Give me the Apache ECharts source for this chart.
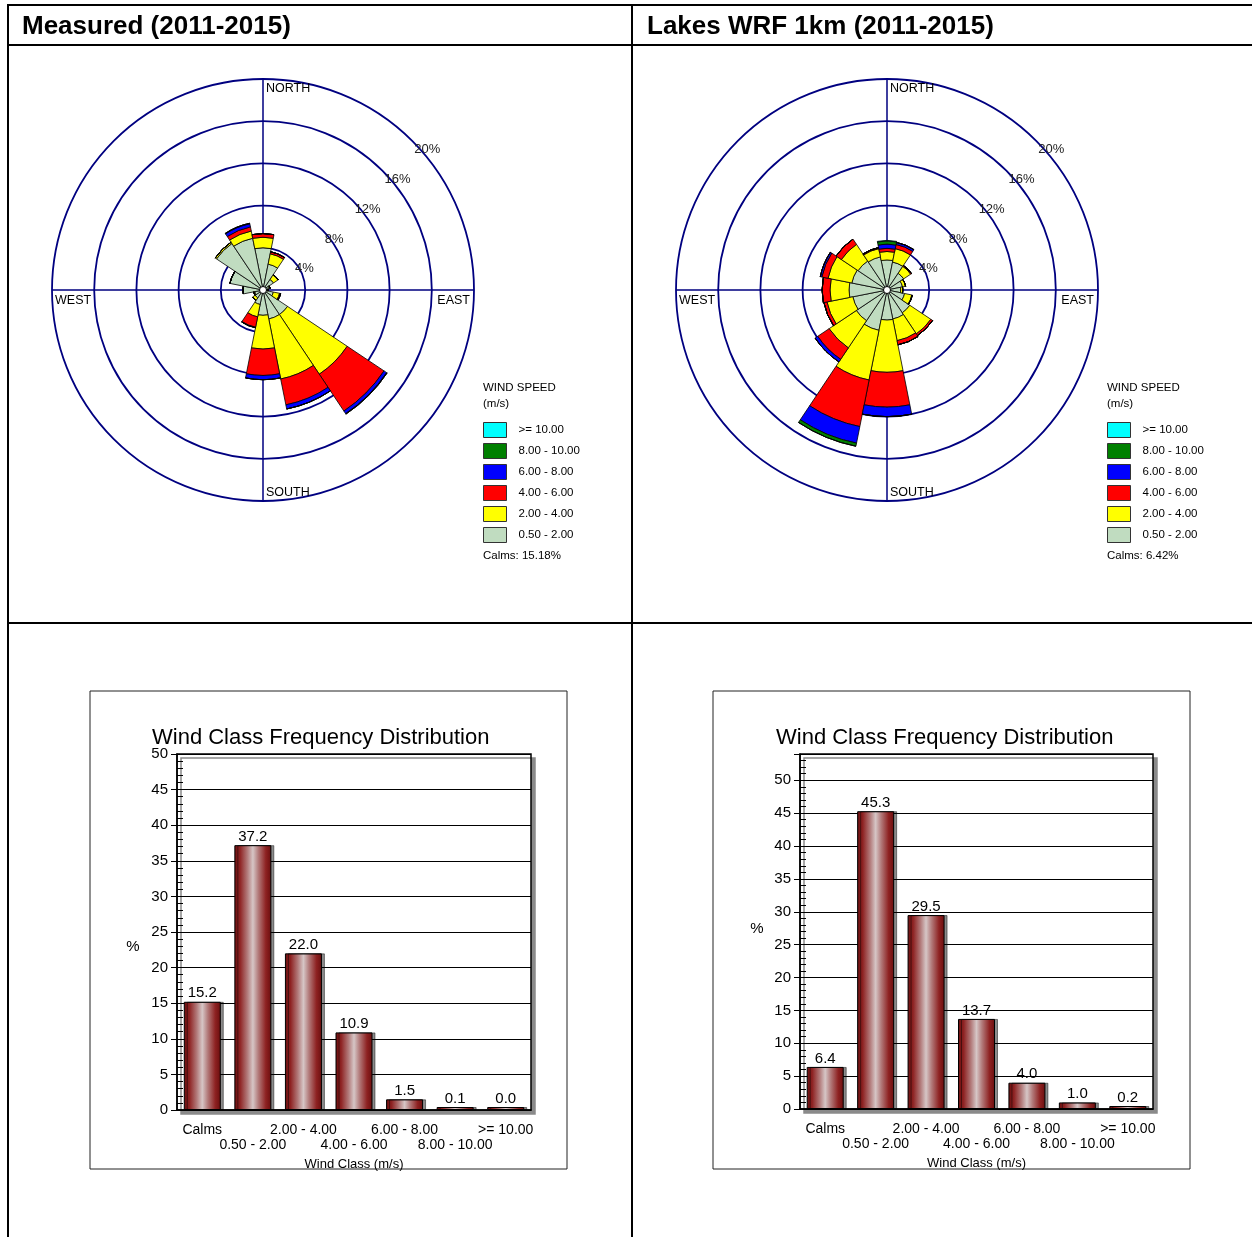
<!DOCTYPE html>
<html>
<head>
<meta charset="utf-8">
<title>Wind roses</title>
<script src="https://cdn.jsdelivr.net/npm/echarts@6/dist/echarts.min.js"></script>
<style>
  html, body { margin: 0; padding: 0; background: #fff; }
  #main { width: 1252px; height: 1237px; }
</style>
</head>
<body>
<div id="main"></div>
<script>
// 16 compass sectors, clockwise from north
var directions = ['N', 'NNE', 'NE', 'ENE', 'E', 'ESE', 'SE', 'SSE', 'S', 'SSW', 'SW', 'WSW', 'W', 'WNW', 'NW', 'NNW'];
var speedClasses = ['0.50 - 2.00', '2.00 - 4.00', '4.00 - 6.00', '6.00 - 8.00', '8.00 - 10.00', '>= 10.00'];
var speedColors = ['#c0dcc0', '#ffff00', '#ff0000', '#0000ff', '#008000', '#00ffff'];

// measured rose, % per sector for each speed class
var measured05to2 = [4.0, 2.5, 1.2, 0.6, 0.4, 1.0, 2.8, 2.8, 2.4, 1.4, 0.9, 0.8, 1.9, 3.2, 5.3, 5.0];
var measured2to4  = [1.0, 1.0, 0.5, 0.1, 0.1, 0.6, 6.8, 5.8, 3.2, 1.2, 0.3, 0.1, 0.0, 0.0, 0.15, 0.7];
var measured4to6  = [0.35, 0.2, 0.05, 0, 0, 0.1, 4.2, 2.5, 2.5, 1.0, 0, 0, 0, 0, 0, 0.4];
var measured6to8  = [0, 0, 0, 0, 0, 0, 0.3, 0.4, 0.4, 0.05, 0, 0, 0, 0, 0, 0.3];
var measured8to10 = [0, 0, 0, 0, 0, 0, 0.05, 0, 0, 0, 0, 0, 0, 0, 0, 0.05];
var measured10up  = [0, 0, 0, 0, 0, 0, 0, 0, 0, 0, 0, 0, 0, 0, 0, 0];

// Lakes WRF 1km rose
var lakes05to2 = [2.85, 2.7, 1.9, 1.5, 1.3, 1.7, 2.6, 2.8, 2.85, 3.9, 3.5, 3.3, 3.6, 3.4, 3.3, 3.2];
var lakes2to4  = [0.8, 1.3, 0.8, 0.3, 0.2, 0.7, 2.4, 2.1, 4.95, 4.8, 3.1, 2.5, 1.8, 2.3, 1.9, 0.8];
var lakes4to6  = [0.3, 0.4, 0.1, 0, 0, 0.05, 0.2, 0.4, 3.3, 4.5, 1.3, 0.3, 0.75, 0.6, 0.6, 0.1];
var lakes6to8  = [0.4, 0.2, 0, 0, 0, 0, 0, 0, 0.9, 1.6, 0.3, 0, 0, 0.15, 0, 0];
var lakes8to10 = [0.3, 0, 0, 0, 0, 0, 0, 0, 0, 0.3, 0, 0, 0, 0, 0, 0];
var lakes10up  = [0.05, 0, 0, 0, 0, 0, 0, 0, 0, 0, 0, 0, 0, 0, 0, 0];

// wind class frequency distribution (%)
var classLabels = ['Calms', '0.50 - 2.00', '2.00 - 4.00', '4.00 - 6.00', '6.00 - 8.00', '8.00 - 10.00', '>= 10.00'];
var measuredClassPct = [15.2, 37.2, 22.0, 10.9, 1.5, 0.1, 0.0];
var lakesClassPct = [6.4, 45.3, 29.5, 13.7, 4.0, 1.0, 0.2];

var FONT = '"Liberation Sans", Arial, sans-serif';
var myChart = echarts.init(document.getElementById('main'));

var roses = [
    {title: 'Measured (2011-2015)', calms: 'Calms: 15.18%', cx: 263, cy: 290, legendX: 483,
        data: [measured05to2, measured2to4, measured4to6, measured6to8, measured8to10, measured10up]},
    {title: 'Lakes WRF 1km (2011-2015)', calms: 'Calms: 6.42%', cx: 887, cy: 290, legendX: 1107,
        data: [lakes05to2, lakes2to4, lakes4to6, lakes6to8, lakes8to10, lakes10up]}
];
var R = 211;

var bars = [
    {data: measuredClassPct, left: 177, width: 354, height: 356, max: 50, titleX: 152, frameX: 90, pctX: 133, pctY: 947},
    {data: lakesClassPct, left: 800, width: 353, height: 355, max: 54, titleX: 776, frameX: 713, pctX: 757, pctY: 929}
];

var polar = [], angleAxis = [], radiusAxis = [], legend = [], series = [], graphic = [];
var grid = [], xAxis = [], yAxis = [], title = [];

var txt = function (s, x, y, size, align, weight) {
    graphic.push({type: 'text', x: x, y: y, z: 50, style: {
        text: s, fill: '#000', align: align || 'left', verticalAlign: 'middle',
        font: (weight || 'normal') + ' ' + size + 'px ' + FONT}});
};

// table lines
[[7, 5, 1252, 5], [7, 45, 1252, 45], [7, 623, 1252, 623], [8, 4, 8, 1237], [632, 4, 632, 1237]].forEach(function (l) {
    graphic.push({type: 'line', shape: {x1: l[0], y1: l[1], x2: l[2], y2: l[3]}, style: {stroke: '#000', lineWidth: 2}});
});

roses.forEach(function (rose, i) {
    var cx = rose.cx, cy = rose.cy;
    polar.push({center: [cx, cy], radius: R});   // sectors + N/E/S/W cross
    polar.push({center: [cx, cy], radius: R});   // rings + % labels on the NE diagonal

    angleAxis.push({
        polarIndex: 2 * i, type: 'category', data: directions, boundaryGap: false,
        startAngle: 90, clockwise: true,
        axisLine: {show: false}, axisLabel: {show: false},
        axisTick: {show: false, interval: 3},
        splitLine: {show: true, interval: 3, lineStyle: {color: '#000080', width: 1.5}}
    });
    angleAxis.push({polarIndex: 2 * i + 1, type: 'value', min: 0, max: 360, startAngle: 45,
        axisLine: {show: false}, axisTick: {show: false}, axisLabel: {show: false}, splitLine: {show: false}});

    radiusAxis.push({
        polarIndex: 2 * i, type: 'value', min: 0, max: 20, interval: 4,
        axisLine: {show: false}, axisTick: {show: false}, axisLabel: {show: false}, splitLine: {show: false}
    });
    radiusAxis.push({
        polarIndex: 2 * i + 1, type: 'value', min: 0, max: 20, interval: 4,
        axisLine: {show: false}, axisTick: {show: false},
        splitLine: {show: true, lineStyle: {color: '#000080', width: 1.8}},
        axisLabel: {
            margin: -3, align: 'left', verticalAlign: 'top', rotate: 0,
            fontSize: 13, color: '#222', fontFamily: FONT,
            formatter: function (v) { return v ? v + '%' : ''; }
        }
    });

    rose.data.forEach(function (vals, k) {
        series.push({
            type: 'bar', name: speedClasses[k], coordinateSystem: 'polar', polarIndex: 2 * i,
            stack: 'rose' + i, data: vals, barCategoryGap: '0%', silent: true,
            itemStyle: {color: speedColors[k], borderColor: '#000', borderWidth: 0.8}
        });
    });

    legend.push({
        orient: 'vertical', left: rose.legendX, top: 422, padding: 0,
        itemWidth: 23, itemHeight: 15, itemGap: 5, icon: 'rect', selectedMode: false,
        data: speedClasses.slice().reverse(),
        itemStyle: {borderColor: '#333', borderWidth: 1},
        textStyle: {fontSize: 11.5, color: '#000', fontFamily: FONT, padding: [0, 0, 0, 7]}
    });

    txt(rose.title, (i ? 647 : 22), 27, 26, 'left', 'bold');
    txt('NORTH', cx + 3, cy - R + 10, 12.5);
    txt('SOUTH', cx + 3, cy + R - 8, 12.5);
    txt('WEST', cx - R + 3, cy + 11, 12.5);
    txt('EAST', cx + R - 4, cy + 11, 12.5, 'right');
    txt('WIND SPEED', rose.legendX, 388, 11.5);
    txt('(m/s)', rose.legendX, 404, 11.5);
    txt(rose.calms, rose.legendX, 556, 11.5);
    graphic.push({type: 'circle', z: 100, shape: {cx: cx, cy: cy, r: 3.5},
        style: {fill: '#fff', stroke: '#000', lineWidth: 1}});
});

var barFill = new echarts.graphic.LinearGradient(0, 0, 1, 0, [
    {offset: 0, color: '#6a0e0e'}, {offset: 0.15, color: '#8e2222'},
    {offset: 0.35, color: '#b27a7a'}, {offset: 0.5, color: '#d6c6c6'},
    {offset: 0.65, color: '#b27a7a'}, {offset: 0.85, color: '#8e2222'},
    {offset: 1, color: '#6a0e0e'}
]);

bars.forEach(function (b, j) {
    grid.push({
        left: b.left, top: 754, width: b.width, height: b.height, show: true,
        outerBoundsMode: 'none',
        backgroundColor: '#fff', borderColor: '#000', borderWidth: 1.5,
        shadowColor: '#8a8a8a', shadowOffsetX: 4, shadowOffsetY: 4, shadowBlur: 0
    });
    xAxis.push({
        gridIndex: j, type: 'category', data: classLabels,
        axisLine: {lineStyle: {color: '#000', width: 1.5}},
        axisTick: {alignWithLabel: true, length: 8, lineStyle: {color: '#000'}},
        axisLabel: {
            interval: 0, fontSize: 14, color: '#000', margin: 13, lineHeight: 15, fontFamily: FONT,
            formatter: function (v, idx) { return idx % 2 ? '\n' + v : v; }
        },
        name: 'Wind Class (m/s)', nameLocation: 'middle', nameGap: 48,
        nameTextStyle: {fontSize: 13, color: '#000', fontFamily: FONT}
    });
    xAxis.push({
        gridIndex: j, type: 'category', data: classLabels, position: 'bottom', z: 5,
        axisLine: {show: false}, axisLabel: {show: false},
        axisTick: {inside: true, alignWithLabel: true, length: 8, lineStyle: {color: '#000'}}
    });
    yAxis.push({
        gridIndex: j, type: 'value', min: 0, max: b.max, interval: 5,
        axisLine: {show: true, lineStyle: {color: '#000', width: 1.5}},
        axisTick: {show: true, length: 6, lineStyle: {color: '#000'}},
        splitLine: {lineStyle: {color: '#000', width: 1}},
        axisLabel: {fontSize: 15, color: '#000', margin: 9, fontFamily: FONT,
            formatter: function (v) { return v % 5 === 0 ? v : ''; }}
    });
    yAxis.push({
        gridIndex: j, type: 'value', min: 0, max: b.max, interval: 1, position: 'left',
        axisLine: {show: false}, axisLabel: {show: false}, splitLine: {show: false},
        axisTick: {show: true, inside: true, length: 6, lineStyle: {color: '#000'}}
    });
    series.push({
        type: 'bar', xAxisIndex: 2 * j, yAxisIndex: 2 * j, data: b.data,
        barWidth: 37, barMinHeight: 3, silent: true,
        itemStyle: {color: barFill, borderColor: '#000', borderWidth: 1,
            shadowColor: 'rgba(0,0,0,0.45)', shadowOffsetX: 3},
        label: {show: true, position: 'top', distance: 1, fontSize: 15, color: '#000', fontFamily: FONT,
            formatter: function (p) { return p.value.toFixed(1); }}
    });
    title.push({
        text: 'Wind Class Frequency Distribution', left: b.titleX, top: 727, padding: 0,
        textStyle: {fontSize: 22, fontWeight: 'normal', color: '#000', fontFamily: FONT}
    });
    txt('%', b.pctX, b.pctY, 15, 'center');
    graphic.push({type: 'rect', shape: {x: b.frameX, y: 691, width: 477, height: 478},
        style: {fill: 'none', stroke: '#222', lineWidth: 1}});
});

var option = {
    animation: false,
    textStyle: {fontFamily: FONT},
    title: title,
    polar: polar,
    angleAxis: angleAxis,
    radiusAxis: radiusAxis,
    grid: grid,
    xAxis: xAxis,
    yAxis: yAxis,
    legend: legend,
    graphic: graphic,
    series: series
};
myChart.setOption(option);
</script>
</body>
</html>
